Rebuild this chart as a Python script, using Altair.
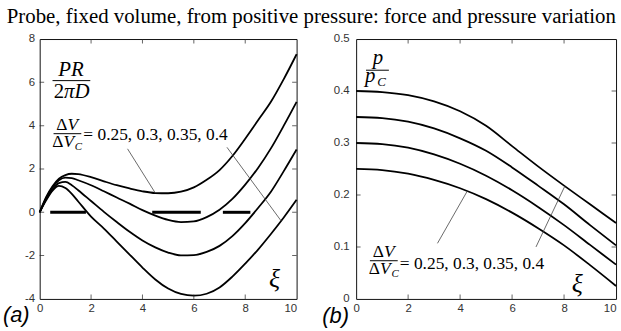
import altair as alt
import pandas as pd

SERIF = "Liberation Serif"
SANS = "Liberation Sans"

# ---------------------------------------------------------------- data
ratios = ["0.25", "0.3", "0.35", "0.4"]

# (a) probe force PR/(2*pi*D) against xi
xi_a = [0, 0.25, 0.5, 0.75, 1.0, 1.25, 1.5, 2, 2.5, 3, 3.5, 4, 4.5, 5,
        5.5, 6, 6.5, 7, 7.5, 8, 8.5, 9, 9.5, 10]
force_025 = [0, 0.7, 1.2, 1.55, 1.72, 1.78, 1.76, 1.62, 1.43, 1.25, 1.1, 0.97,
             0.89, 0.88, 0.95, 1.15, 1.5, 1.95, 2.6, 3.4, 4.25, 5.1, 6.15, 7.3]
force_030 = [0, 0.65, 1.15, 1.48, 1.6, 1.58, 1.48, 1.25, 0.97, 0.68, 0.4, 0.1,
             -0.15, -0.35, -0.45, -0.42, -0.22, 0.12, 0.62, 1.28, 2.05, 2.95, 4.0, 5.1]
force_035 = [0, 0.6, 1.05, 1.35, 1.4, 1.25, 1.02, 0.52, 0.02, -0.45, -0.9, -1.3,
             -1.62, -1.86, -1.99, -1.98, -1.83, -1.55, -1.1, -0.5, 0.2, 0.95, 1.9, 2.9]
force_040 = [0, 0.55, 1.0, 1.22, 1.12, 0.85, 0.5, -0.2, -0.75, -1.35, -1.95, -2.55,
             -3.1, -3.52, -3.77, -3.85, -3.76, -3.47, -2.97, -2.37, -1.72, -1.0, -0.24, 0.58]
force = [force_025, force_030, force_035, force_040]

# (b) pressure p/p_C against xi
xi_b = [0, 1, 2, 3, 4, 5, 6, 7, 8, 9, 10]
p_025 = [0.250, 0.248, 0.241, 0.229, 0.213, 0.192, 0.166, 0.136, 0.103, 0.065, 0.025]
p_030 = [0.300, 0.298, 0.291, 0.278, 0.260, 0.237, 0.209, 0.177, 0.142, 0.104, 0.066]
p_035 = [0.350, 0.348, 0.341, 0.328, 0.309, 0.285, 0.253, 0.218, 0.182, 0.142, 0.103]
p_040 = [0.400, 0.398, 0.392, 0.380, 0.361, 0.333, 0.294, 0.255, 0.218, 0.182, 0.146]
pressure = [p_025, p_030, p_035, p_040]

# stretches of zero force drawn along the axis in (a)
zero_from = [0.41, 4.38, 7.13]
zero_to = [1.80, 6.27, 8.20]

# tick values
xa_ticks = [0, 2, 4, 6, 8, 10]
ya_ticks = [-4, -2, 0, 2, 4, 6, 8]
xb_ticks = [0, 2, 4, 6, 8, 10]
yb_ticks = [0, 0.1, 0.2, 0.3, 0.4, 0.5]

# ---------------------------------------------------------------- tables
df_a = pd.DataFrame([(x, v, r) for r, vals in zip(ratios, force)
                     for x, v in zip(xi_a, vals)], columns=["xi", "v", "ratio"])
df_b = pd.DataFrame([(x, v, r) for r, vals in zip(ratios, pressure)
                     for x, v in zip(xi_b, vals)], columns=["xi", "v", "ratio"])
df_zero = pd.DataFrame({"a": zero_from, "b": zero_to, "v": [0] * len(zero_from)})


def tick_frames(xt, yt, xdom, ydom):
    inner_x = [t for t in xt if xdom[0] < t < xdom[1]]
    inner_y = [t for t in yt if ydom[0] < t < ydom[1]]
    vx = pd.DataFrame([(t, e) for e in ydom for t in inner_x], columns=["t", "edge"])
    hy = pd.DataFrame([(t, e) for e in xdom for t in inner_y], columns=["t", "edge"])
    return vx, hy


W_A, W_B, H = 259, 262, 262


def build_panel(df, xdom, ydom, xt, yt, ylabel_expr, ylab_pad, width, zero, extra):
    xs = alt.Scale(domain=xdom, nice=False, zero=False)
    ys = alt.Scale(domain=ydom, nice=False, zero=False)
    xlab = {"condition": {"test": f"datum.value == {xdom[1]}", "value": "right"},
            "value": "center"}
    x_axis = alt.Axis(values=xt, title=None, labelPadding=4, labelAlign=xlab)
    y_axis = alt.Axis(values=yt, title=None, labelPadding=ylab_pad, labelExpr=ylabel_expr)

    def X(f):
        return alt.X(f, type="quantitative", scale=xs, axis=x_axis, title=None)

    def Y(f):
        return alt.Y(f, type="quantitative", scale=ys, axis=y_axis, title=None)

    curves = alt.Chart(df).mark_line(
        color="black", strokeWidth=1.8, interpolate="monotone"
    ).encode(x=X("xi"), y=Y("v"), detail="ratio:N")

    vx, hy = tick_frames(xt, yt, xdom, ydom)
    ticks_v = alt.Chart(vx).mark_tick(orient="vertical", size=9, thickness=1,
                                      color="#222", clip=True).encode(x=X("t"), y=Y("edge"))
    ticks_h = alt.Chart(hy).mark_tick(orient="horizontal", size=9, thickness=1,
                                      color="#222", clip=True).encode(y=Y("t"), x=X("edge"))

    layers = [curves, ticks_v, ticks_h]
    if zero is not None:
        layers.append(alt.Chart(zero).mark_rule(color="black", strokeWidth=3).encode(
            x=X("a"), x2="b", y=Y("v")))
    for kind, spec in extra:
        d = pd.DataFrame([spec["data"]])
        if kind == "text":
            layers.append(alt.Chart(d).mark_text(
                font=spec.get("font", SERIF), fontSize=spec.get("size", 17.5),
                fontStyle=spec.get("style", "normal"), align=spec.get("align", "left"),
                baseline="alphabetic", dx=spec.get("dx", 0), dy=spec.get("dy", 0),
                color="black",
            ).encode(x=X("x"), y=Y("y"), text="t:N"))
        elif kind == "bar":
            layers.append(alt.Chart(d).mark_rule(color="black", strokeWidth=1).encode(
                x=X("x0"), x2="x1", y=Y("y")))
        elif kind == "pointer":
            layers.append(alt.Chart(d).mark_rule(color="#444", strokeWidth=0.8).encode(
                x=X("x0"), y=Y("y0"), x2="x1", y2="y1"))
    return alt.layer(*layers).properties(width=width, height=H)


def ratio_label(cx, bar_y, num_y, den_y, txt_x, txt_y, bar_x0, bar_x1):
    return [
        ("text", {"data": {"x": cx, "y": num_y, "t": "Δ"}, "align": "right"}),
        ("text", {"data": {"x": cx, "y": num_y, "t": "V"}, "style": "italic"}),
        ("bar", {"data": {"x0": bar_x0, "x1": bar_x1, "y": bar_y}}),
        ("text", {"data": {"x": cx, "y": den_y, "t": "Δ"}, "align": "right", "dx": -4}),
        ("text", {"data": {"x": cx, "y": den_y, "t": "V"}, "style": "italic", "dx": -4}),
        ("text", {"data": {"x": cx, "y": den_y, "t": "C"}, "style": "italic", "size": 11,
                  "dx": 7.5, "dy": 3}),
        ("text", {"data": {"x": txt_x, "y": txt_y, "t": "= 0.25, 0.3, 0.35, 0.4"}}),
    ]


extra_a = [
    ("text", {"data": {"x": 1.22, "y": 6.28, "t": "PR"}, "style": "italic", "size": 21,
              "align": "center"}),
    ("bar", {"data": {"x0": 0.5, "x1": 1.97, "y": 6.08}}),
    ("text", {"data": {"x": 1.22, "y": 5.27, "t": "2"}, "size": 21, "align": "right", "dx": -7}),
    ("text", {"data": {"x": 1.22, "y": 5.27, "t": "πD"}, "size": 21, "style": "italic",
              "dx": -7}),
    ("pointer", {"data": {"x0": 3.42, "y0": 2.93, "x1": 4.5, "y1": 0.89}}),
    ("pointer", {"data": {"x0": 7.29, "y0": 3.0, "x1": 9.4, "y1": -0.4}}),
    ("text", {"data": {"x": 9.14, "y": -3.47, "t": "ξ"}, "size": 26, "style": "italic",
              "align": "center"}),
    ("text", {"data": {"x": -1.43, "y": -5.08, "t": "(a)"}, "font": SANS, "size": 22,
              "style": "italic"}),
] + ratio_label(1.08, 3.63, 3.81, 3.03, 1.70, 3.35, 0.54, 1.62)

extra_b = [
    ("text", {"data": {"x": 0.84, "y": 0.451, "t": "p"}, "style": "italic", "size": 21,
              "align": "center"}),
    ("bar", {"data": {"x0": 0.38, "x1": 1.26, "y": 0.44}}),
    ("text", {"data": {"x": 0.70, "y": 0.417, "t": "p"}, "style": "italic", "size": 21,
              "align": "right", "dx": 1}),
    ("text", {"data": {"x": 0.70, "y": 0.417, "t": "C"}, "style": "italic", "size": 13,
              "dx": 3, "dy": 4}),
    ("pointer", {"data": {"x0": 3.13, "y0": 0.107, "x1": 4.27, "y1": 0.207}}),
    ("pointer", {"data": {"x0": 6.92, "y0": 0.100, "x1": 8.03, "y1": 0.217}}),
    ("text", {"data": {"x": 8.51, "y": 0.0124, "t": "ξ"}, "size": 26, "style": "italic",
              "align": "center"}),
    ("text", {"data": {"x": -1.30, "y": -0.047, "t": "(b)"}, "font": SANS, "size": 22,
              "style": "italic"}),
] + ratio_label(1.07, 0.0735, 0.081, 0.0487, 1.68, 0.0582, 0.53, 1.60)

panel_a = build_panel(df_a, [0, 10], [-4, 8], xa_ticks, ya_ticks,
                      "datum.value < 0 ? '-' + abs(datum.value) : datum.label", 5, W_A,
                      df_zero, extra_a)
panel_b = build_panel(df_b, [0, 10], [0, 0.5], xb_ticks, yb_ticks,
                      "datum.value == 0 ? '0' : format(datum.value, '.1f')", 7, W_B, None,
                      extra_b)

chart = alt.hconcat(
    panel_a, panel_b, spacing=60, bounds="flush",
    padding={"left": 2, "top": 4, "right": 0, "bottom": 3},
    title=alt.TitleParams(
        "Probe, fixed volume, from positive pressure: force and pressure variation",
        font=SERIF, fontSize=21, fontWeight="normal", color="black",
        anchor="middle", offset=6,
    ),
).configure_view(
    stroke="#111", strokeWidth=1
).configure_axis(
    grid=False, ticks=False, domain=False, labelFont=SANS, labelFontSize=11.5,
    labelColor="#333",
)

chart.save("out.html", embed_options={"renderer": "svg", "actions": False})
